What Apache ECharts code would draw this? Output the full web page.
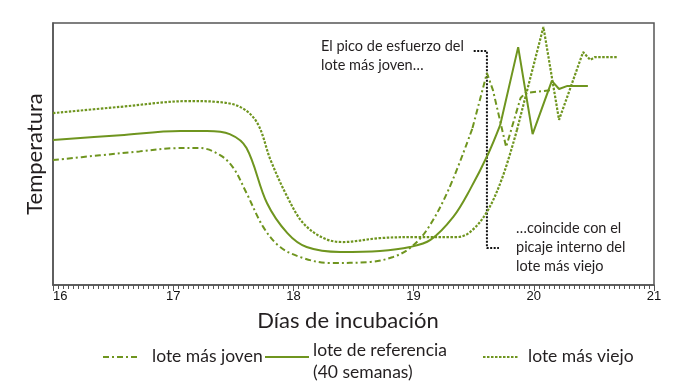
<!DOCTYPE html>
<html><head><meta charset="utf-8">
<script src="https://cdn.jsdelivr.net/npm/echarts@6/dist/echarts.min.js"></script>
<style>html,body{margin:0;padding:0;background:#fff}#c{width:700px;height:385px}</style>
</head><body><div id="c"></div>
<script>
// x: incubation day, y: relative temperature (arbitrary units, axis unlabeled)
const xTicks = [16, 17, 18, 19, 20, 21];
const seriesNames = ['lote más joven', 'lote de referencia\n(40 semanas)', 'lote más viejo'];

// smooth phase (days 16 to ~19.5)
const youngCurve = [[16.00,47.7],[16.39,49.5],[16.72,51.0],[17.00,52.2],[17.22,52.3],[17.39,49.6],[17.50,44.7],[17.61,35.1],[17.75,22.1],[17.89,14.5],[18.08,10.3],[18.30,8.4],[18.64,8.8],[18.83,10.7],[18.97,14.1],[19.11,21.0],[19.29,36.3],[19.49,59.9]];
const refCurve   = [[16.00,55.3],[16.56,57.2],[17.06,58.8],[17.28,58.8],[17.47,57.6],[17.61,52.3],[17.78,31.3],[17.95,19.8],[18.11,14.5],[18.39,12.6],[18.72,13.0],[18.97,14.5],[19.14,17.2],[19.33,26.0],[19.47,36.5],[19.62,50.0],[19.72,61.0]];
const oldCurve   = [[16.00,65.6],[16.56,68.0],[17.14,70.2],[17.36,69.9],[17.56,67.9],[17.70,61.8],[17.81,47.7],[17.95,33.6],[18.08,23.7],[18.25,17.9],[18.41,16.4],[18.72,17.9],[19.03,18.3],[19.36,18.3],[19.47,20.2],[19.61,27.9],[19.74,41.2],[19.86,59.2]];

// zigzag phase (pipping / hatching peaks)
const youngPeaks = [[19.49,59.9],[19.61,80.9],[19.66,74.4],[19.77,52.7],[19.89,71.4],[19.93,73.3],[20.15,74.4]];
const refPeaks   = [[19.72,61.0],[19.87,90.8],[19.99,57.6],[20.15,77.9],[20.21,74.8],[20.28,76.0],[20.45,76.0]];
const oldPeaks   = [[19.86,59.2],[20.08,98.5],[20.21,63.0],[20.41,88.9],[20.47,85.9],[20.51,87.0],[20.70,87.0]];

// annotation bracket (day, value)
const bracket = [[19.50,89.3],[19.61,89.3],[19.61,14.1],[19.71,14.1]];
const noteTop = ['El pico de esfuerzo del', 'lote más joven…'];
const noteBottom = ['…coincide con el', 'picaje interno del', 'lote más viejo'];

const GREEN = '#6f951f';
const FONT = 'Lato';
const styles = [
  {type:[6,3,2,3], width:2},
  {type:'solid', width:2},
  {type:[2.5,1.5], width:2.2}
];
function mk(data, i, smooth){
  return {type:'line', data, smooth: smooth ? 0.35 : false, symbol:'none', silent:true,
    lineStyle:{color:GREEN, width:styles[i].width, type:styles[i].type}};
}
const chart = echarts.init(document.getElementById('c'), null, {renderer:'canvas'});
chart.setOption({
  animation:false,
  grid:{left:53, right:46, top:23, bottom:100, show:true, borderColor:'#555', borderWidth:1.5},
  xAxis:{type:'value', min:xTicks[0], max:xTicks[xTicks.length-1], interval:1,
    name:'Días de incubación', nameLocation:'middle', nameGap:25,
    nameTextStyle:{fontFamily:FONT, fontSize:22, color:'#231f20', padding:[0,11,0,0]},
    axisLine:{lineStyle:{color:'#555', width:1.5}},
    axisTick:{length:6, lineStyle:{color:'#555'}},
    minorTick:{show:true, splitNumber:24, length:4, lineStyle:{color:'#555'}},
    axisLabel:{fontFamily:'Liberation Sans', fontSize:13, color:'#111', margin:5, alignMinLabel:'left'},
    splitLine:{show:false}},
  yAxis:{type:'value', min:0, max:100,
    name:'Temperatura', nameLocation:'middle', nameGap:7, nameRotate:90,
    nameTextStyle:{fontFamily:FONT, fontSize:22, color:'#231f20'},
    axisLine:{show:true, lineStyle:{color:'#555', width:1.5}},
    axisTick:{show:false}, axisLabel:{show:false}, splitLine:{show:false}},
  series:[
    mk(youngCurve,0,true), mk(youngPeaks,0,false),
    mk(refCurve,1,true), mk(refPeaks,1,false),
    mk(oldCurve,2,true), mk(oldPeaks,2,false),
    {type:'line', data:bracket, symbol:'none', silent:true, z:1,
      lineStyle:{color:'#111', width:2, type:[2,1.5]}}
  ],
  graphic:[
    {type:'text', left:321, top:37, style:{text:noteTop.join('\n'), font:'14.5px '+FONT, fill:'#231f20', lineHeight:19}},
    {type:'text', left:516, top:219, style:{text:noteBottom.join('\n'), font:'14.5px '+FONT, fill:'#231f20', lineHeight:19}},
    // legend
    {type:'line', shape:{x1:103,y1:357,x2:138,y2:357}, style:{stroke:GREEN, lineWidth:2, lineDash:styles[0].type}},
    {type:'text', left:152, top:347, style:{text:seriesNames[0], font:'17.5px '+FONT, fill:'#231f20'}},
    {type:'line', shape:{x1:265,y1:357,x2:309,y2:357}, style:{stroke:GREEN, lineWidth:2}},
    {type:'text', left:313, top:339, style:{text:seriesNames[1], font:'17.5px '+FONT, fill:'#231f20', lineHeight:22}},
    {type:'line', shape:{x1:483,y1:357,x2:519,y2:357}, style:{stroke:GREEN, lineWidth:2, lineDash:styles[2].type}},
    {type:'text', left:528, top:347, style:{text:seriesNames[2], font:'17.5px '+FONT, fill:'#231f20'}}
  ]
});
</script></body></html>
